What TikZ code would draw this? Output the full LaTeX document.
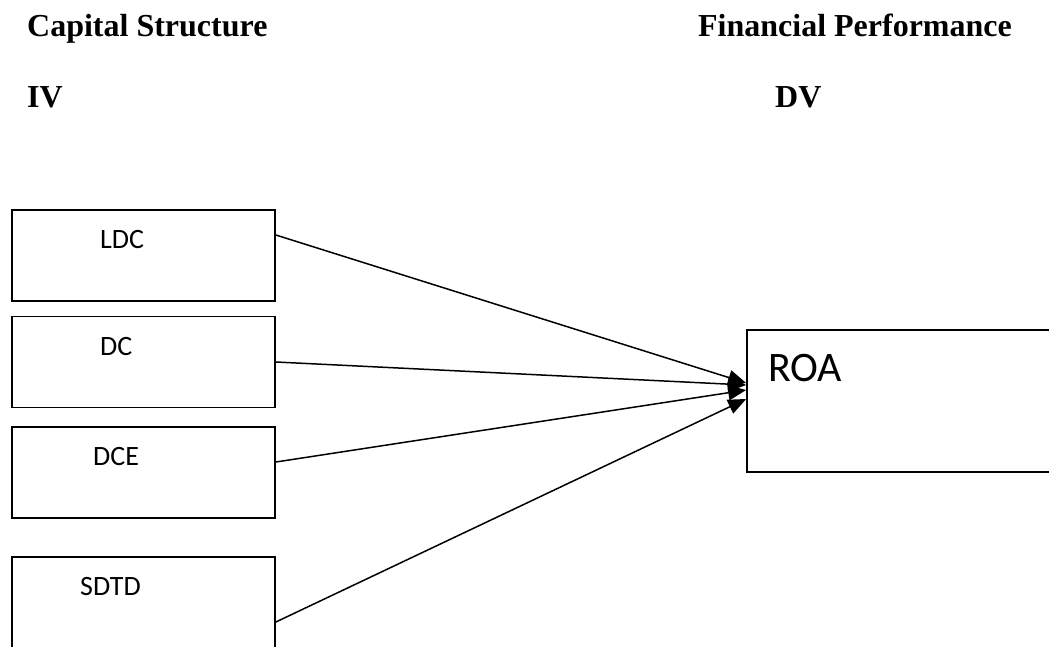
\documentclass[tikz,border=0pt]{standalone}
\usepackage{fontspec}
\setmainfont{Liberation Serif}
\newfontfamily\calib{Carlito}
\usetikzlibrary{arrows.meta,calc}
\begin{document}
\begin{tikzpicture}[x=1pt,y=-1pt,
  box/.style={draw,line width=1.7pt,inner sep=0pt,minimum width=263pt,minimum height=91pt},
  lbl/.style={anchor=base west,inner sep=0pt,font=\calib\fontsize{28}{32}\selectfont},
  head/.style={inner sep=0pt,font=\bfseries\fontsize{32}{38}\selectfont},
  conn/.style={line width=1.5pt,-{Triangle[length=18pt,width=15pt]}}]
\useasboundingbox (0,0) rectangle (1049,646);
\clip (0,0) rectangle (1049,646);
% headings
\node[head,anchor=base west] (cs) at (27,36) {Capital Structure};
\node[head,anchor=base west] (iv) at (27,107) {IV};
\node[head,anchor=base east] (fp) at (1012,36) {Financial Performance};
\node[head,anchor=base west] (dv) at (775,107) {DV};
% boxes
\node[box] (ldc) at (143.5,255.5) {};
\node[box] (dc) at (143.5,362) {};
\node[box] (dce) at (143.5,472.5) {};
\node[box] (sdtd) at (143.5,602.5) {};
\node[box,minimum width=323pt,minimum height=142pt] (roa) at (908.5,401) {};
% labels
\node[lbl] (tldc) at (100,248) {LDC};
\node[lbl] (tdc) at (100,355) {DC};
\node[lbl] (tdce) at (93,465) {DCE};
\node[lbl] (tsdtd) at (80,595) {SDTD};
\node[lbl,font=\calib\fontsize{42}{48}\selectfont] (troa) at (768,381) {ROA};
% connectors
\draw[conn] ([yshift=20.5pt]ldc.east) -- ([yshift=18pt]roa.west);
\draw[conn] (dc.east) -- ([yshift=16pt]roa.west);
\draw[conn] ([yshift=10.5pt]dce.east) -- ([yshift=11pt]roa.west);
\draw[conn] ([yshift=-19.5pt]sdtd.east) -- ([yshift=2pt]roa.west);
\end{tikzpicture}
\end{document}
